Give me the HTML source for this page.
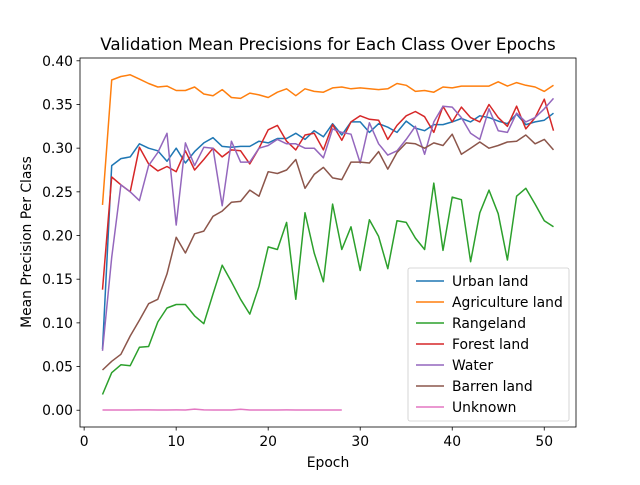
<!DOCTYPE html>
<html><head><meta charset="utf-8"><style>
body{margin:0;background:#fff;font-family:"Liberation Sans","DejaVu Sans",sans-serif}
</style></head><body>
<svg id="c" width="640" height="480" xmlns="http://www.w3.org/2000/svg" font-family="DejaVu Sans, Liberation Sans, sans-serif"></svg>
<script>
const epochs = Array.from({length:50},(_, i)=>i+2);
const seriesNames = ["Urban land","Agriculture land","Rangeland","Forest land","Water","Barren land","Unknown"];
const colors = ["#1f77b4","#ff7f0e","#2ca02c","#d62728","#9467bd","#8c564b","#e377c2"];
const urban = [0.07,0.28,0.288,0.290,0.305,0.300,0.297,0.285,0.300,0.283,0.296,0.306,0.312,0.302,0.301,0.302,0.302,0.308,0.306,0.311,0.311,0.317,0.310,0.320,0.313,0.328,0.315,0.330,0.330,0.318,0.328,0.324,0.318,0.331,0.323,0.320,0.327,0.327,0.330,0.334,0.330,0.337,0.335,0.331,0.328,0.339,0.327,0.330,0.332,0.340];
const agri = [0.235,0.378,0.382,0.384,0.379,0.374,0.370,0.371,0.366,0.366,0.370,0.362,0.360,0.367,0.358,0.357,0.363,0.361,0.358,0.364,0.368,0.360,0.368,0.365,0.364,0.369,0.370,0.368,0.369,0.368,0.367,0.368,0.374,0.372,0.365,0.366,0.364,0.370,0.369,0.371,0.371,0.371,0.371,0.376,0.371,0.375,0.372,0.370,0.365,0.372];
const range = [0.018,0.043,0.052,0.051,0.072,0.073,0.101,0.117,0.121,0.121,0.108,0.099,0.133,0.166,0.147,0.127,0.110,0.142,0.187,0.184,0.215,0.127,0.226,0.180,0.147,0.236,0.184,0.210,0.160,0.218,0.199,0.162,0.217,0.215,0.197,0.184,0.260,0.183,0.244,0.241,0.170,0.226,0.252,0.225,0.172,0.245,0.254,0.236,0.217,0.210];
const forest = [0.138,0.267,0.258,0.250,0.301,0.282,0.274,0.279,0.273,0.297,0.275,0.287,0.300,0.290,0.298,0.297,0.282,0.300,0.321,0.326,0.308,0.298,0.315,0.317,0.298,0.327,0.309,0.330,0.337,0.333,0.332,0.310,0.326,0.337,0.342,0.336,0.318,0.348,0.330,0.347,0.335,0.330,0.350,0.335,0.325,0.348,0.322,0.335,0.356,0.320];
const water = [0.068,0.175,0.258,0.250,0.240,0.280,0.295,0.317,0.212,0.306,0.280,0.301,0.300,0.234,0.308,0.284,0.284,0.300,0.303,0.310,0.305,0.305,0.300,0.300,0.289,0.322,0.318,0.316,0.283,0.329,0.305,0.292,0.297,0.310,0.325,0.293,0.330,0.348,0.347,0.335,0.317,0.310,0.345,0.320,0.318,0.340,0.330,0.335,0.345,0.357];
const barren = [0.046,0.056,0.064,0.085,0.103,0.122,0.127,0.156,0.198,0.180,0.202,0.205,0.222,0.228,0.238,0.239,0.252,0.245,0.273,0.271,0.275,0.287,0.254,0.270,0.278,0.266,0.264,0.284,0.284,0.283,0.296,0.276,0.295,0.306,0.305,0.300,0.306,0.303,0.316,0.293,0.300,0.307,0.300,0.303,0.307,0.308,0.315,0.305,0.310,0.298];
const unknown = [0.0003,0.0003,0.0003,0.0003,0.0004,0.0004,0.0003,0.0003,0.0004,0.0003,0.0013,0.0004,0.0003,0.0003,0.0003,0.0012,0.0003,0.0003,0.0003,0.0003,0.0004,0.0003,0.0003,0.0003,0.0003,0.0003,0.0003];
const xTicks = [0,10,20,30,40,50];
const yTicks = [0.00,0.05,0.10,0.15,0.20,0.25,0.30,0.35,0.40];

const L=80,T=58,R=576,B=427;
const xmin=-0.45,xmax=53.45,ymin=-0.0192,ymax=0.4032;
const X=v=>L+(v-xmin)/(xmax-xmin)*(R-L);
const Y=v=>B-(v-ymin)/(ymax-ymin)*(B-T);
const svg=document.getElementById('c');
const NS="http://www.w3.org/2000/svg";
function mk(tag,attrs,parent){const e=document.createElementNS(NS,tag);for(const k in attrs)e.setAttribute(k,attrs[k]);(parent||svg).appendChild(e);return e;}

const all=[urban,agri,range,forest,water,barren,unknown];
all.forEach((s,i)=>{
  const pts=s.map((v,j)=>X(epochs[j]).toFixed(1)+","+Y(v).toFixed(1)).join(" ");
  const p=mk('polyline',{points:pts,fill:'none',stroke:colors[i],'stroke-width':1.5,'stroke-linejoin':'round'});
  
  
});
const frame=mk('rect',{x:L,y:T,width:R-L,height:B-T,fill:'none',stroke:'#000','stroke-width':0.8});


xTicks.forEach(t=>{
  mk('line',{x1:X(t),x2:X(t),y1:B,y2:B+3.5,stroke:'#000','stroke-width':0.8});
  const tx=mk('text',{x:X(t),y:B+19,'font-size':13.9,'text-anchor':'middle'});tx.textContent=t;
  
  
});
yTicks.forEach(t=>{
  mk('line',{x1:L-3.5,x2:L,y1:Y(t),y2:Y(t),stroke:'#000','stroke-width':0.8});
  const tx=mk('text',{x:L-7,y:Y(t)+5,'font-size':13.9,'text-anchor':'end'});tx.textContent=t.toFixed(2);
  
  
});
</script>
<script>
(function(){
const svg=document.getElementById('c');const NS="http://www.w3.org/2000/svg";
function mk(tag,attrs,parent){const e=document.createElementNS(NS,tag);for(const k in attrs)e.setAttribute(k,attrs[k]);(parent||svg).appendChild(e);return e;}
const title=mk('text',{x:328,y:50,'font-size':16.7,'text-anchor':'middle'});title.textContent="Validation Mean Precisions for Each Class Over Epochs";


const xl=mk('text',{x:328,y:467,'font-size':13.9,'text-anchor':'middle'});xl.textContent="Epoch";


const yl=mk('text',{x:0,y:0,'font-size':13.9,'text-anchor':'middle',transform:'translate(31,242) rotate(-90)'});yl.textContent="Mean Precision Per Class";


const lg=mk('g',{});


mk('rect',{x:408,y:268,width:161,height:153,rx:2,fill:'#fff','fill-opacity':0.8,stroke:'#ccc','stroke-width':0.8},lg);
seriesNames.forEach((n,i)=>{
  const y=281+i*21;
  mk('line',{x1:416,x2:444,y1:y,y2:y,stroke:colors[i],'stroke-width':1.5},lg);
  const t=mk('text',{x:452,y:y+5,'font-size':13.9},lg);t.textContent=n;
  
  
});
})();
</script>
</body></html>
